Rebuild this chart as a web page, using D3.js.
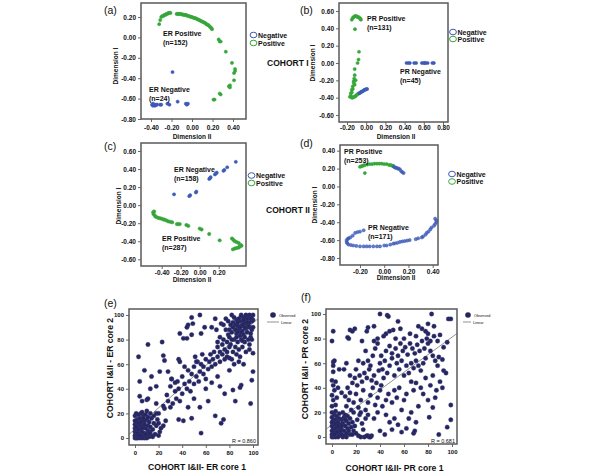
<!DOCTYPE html>
<html><head><meta charset="utf-8">
<script src="https://cdn.jsdelivr.net/npm/d3@7"></script>
<style>body{margin:0;background:#fff} svg{display:block} text{font-family:"Liberation Sans",Arial,sans-serif}</style>
</head><body><svg id="c" width="600" height="474"></svg>
<script>
// ---------- DATA ----------
const aGreen=[[-0.31,0.17],[-0.32,0.13],[-0.30,0.20],[-0.29,0.21],[-0.28,0.21],[-0.27,0.22],[-0.26,0.22],[-0.25,0.23],[-0.24,0.23],[-0.23,0.24],[-0.22,0.24],[-0.21,0.24],
[-0.15,0.23],[-0.14,0.23],[-0.13,0.23],[-0.12,0.23],[-0.11,0.23],[-0.10,0.225],[-0.09,0.225],[-0.08,0.22],[-0.07,0.22],[-0.06,0.22],[-0.05,0.215],[-0.04,0.21],[-0.03,0.21],[-0.02,0.205],[-0.01,0.20],[0.00,0.20],[0.01,0.195],[0.02,0.19],[0.03,0.19],[0.04,0.185],[0.05,0.18],[0.06,0.175],[0.07,0.17],[0.08,0.165],[0.09,0.16],[0.10,0.155],[0.11,0.15],[0.12,0.145],[0.13,0.14],[0.14,0.13],[0.15,0.125],[0.16,0.12],[0.17,0.11],[0.18,0.10],[0.19,0.09],[0.195,0.08],
[0.26,-0.02],[0.27,-0.04],[0.28,-0.04],[0.33,-0.14],[0.39,-0.25],[0.42,-0.31],[0.42,-0.33],[0.41,-0.35],[0.41,-0.42],[0.37,-0.47],[0.36,-0.48],[0.37,-0.49],[0.27,-0.55],[0.28,-0.56],[0.21,-0.61],[0.22,-0.61]];
const aBlue=[[-0.19,-0.34],[-0.39,-0.66],[-0.38,-0.67],[-0.37,-0.66],[-0.36,-0.67],[-0.35,-0.66],[-0.34,-0.66],[-0.38,-0.65],[-0.31,-0.66],[-0.30,-0.66],[-0.24,-0.65],[-0.22,-0.66],[-0.14,-0.63],[-0.06,-0.65],[-0.04,-0.65],[-0.05,-0.66]];

const bGreen=[[-0.15,0.50],[-0.14,0.52],[-0.13,0.53],[-0.12,0.54],[-0.11,0.54],[-0.10,0.54],[-0.09,0.53],[-0.08,0.53],[-0.07,0.52],[-0.06,0.51],[-0.055,0.50],
[-0.117,0.39],[-0.075,0.13],[-0.08,0.04],[-0.09,0.00],[-0.12,-0.07],[-0.12,-0.14],[-0.125,-0.18],[-0.13,-0.21],[-0.13,-0.23],[-0.14,-0.27],[-0.15,-0.31],[-0.16,-0.35],[-0.17,-0.39],[-0.16,-0.38],[-0.15,-0.40],[-0.14,-0.40],[-0.13,-0.39],[-0.12,-0.39],[-0.11,-0.38],[-0.10,-0.37],[-0.09,-0.36],[-0.08,-0.35],[-0.15,-0.34],[-0.14,-0.30],[-0.12,-0.25],[-0.11,-0.20]];
const bBlue=[[-0.07,-0.35],[-0.06,-0.34],[-0.05,-0.33],[-0.04,-0.33],[-0.03,-0.32],[-0.02,-0.31],[-0.01,-0.31],[0.00,-0.30],[0.01,-0.30],
[0.42,0],[0.44,0],[0.455,0],[0.50,0],[0.52,0],[0.58,0],[0.60,0],[0.61,0],[0.62,0],[0.64,0],[0.69,0],[0.705,0]];

const cBlue=[[-0.27,0.12],[-0.11,0.10],[-0.10,0.11],[-0.04,0.14],[-0.035,0.15],[0.10,0.29],[0.11,0.30],[0.115,0.31],[0.16,0.34],[0.17,0.35],[0.18,0.36],[0.25,0.38],[0.26,0.39],[0.29,0.42],[0.38,0.48]];
const cGreen=[[-0.49,-0.08],[-0.48,-0.07],[-0.485,-0.10],[-0.47,-0.12],[-0.46,-0.13],[-0.44,-0.14],[-0.42,-0.145],[-0.40,-0.15],[-0.38,-0.16],[-0.37,-0.16],[-0.35,-0.17],[-0.33,-0.18],[-0.31,-0.185],[-0.29,-0.19],[-0.24,-0.21],[-0.225,-0.21],[-0.21,-0.21],[-0.14,-0.22],[-0.12,-0.23],[0.00,-0.26],[0.02,-0.27],[0.10,-0.32],[0.21,-0.39],
[0.34,-0.37],[0.355,-0.385],[0.37,-0.40],[0.39,-0.41],[0.41,-0.42],[0.43,-0.44],[0.44,-0.45],[0.42,-0.46],[0.41,-0.47],[0.39,-0.475],[0.37,-0.48],[0.35,-0.49]];

const dGreen=[[-0.20,0.22],[-0.19,0.225],[-0.18,0.23],[-0.17,0.235],[-0.16,0.24],[-0.14,0.245],[-0.12,0.25],[-0.10,0.25],[-0.08,0.255],[-0.06,0.255],[-0.04,0.255],[-0.02,0.255],[0.00,0.25],[0.02,0.25],[0.04,0.24],[0.05,0.24],[0.06,0.235],[0.07,0.23],[0.075,0.23],[-0.16,0.15]];
const dBlue=[[0.08,0.22],[0.09,0.21],[0.10,0.21],[0.11,0.20],[0.12,0.20],[0.13,0.19],[0.14,0.17],[0.15,0.16],[0.16,0.15],
[0.42,-0.36],[0.43,-0.38],[0.43,-0.40],[0.42,-0.42],[0.41,-0.44],[0.39,-0.46],[0.38,-0.48],[0.365,-0.505],[0.35,-0.52],[0.34,-0.54],[0.32,-0.56],[0.31,-0.57],[0.28,-0.58],[0.26,-0.59],[0.21,-0.60],[0.19,-0.605],[0.17,-0.61],[0.15,-0.615],[0.13,-0.62],[0.11,-0.63],[0.09,-0.635],[0.075,-0.64],[0.05,-0.65],[0.02,-0.66],[0.00,-0.66],[-0.035,-0.67],[-0.06,-0.67],[-0.09,-0.67],[-0.12,-0.67],[-0.145,-0.67],[-0.17,-0.67],[-0.20,-0.67],[-0.23,-0.665],[-0.255,-0.66],[-0.275,-0.655],[-0.295,-0.65],[-0.305,-0.635],[-0.31,-0.62],[-0.31,-0.60],[-0.30,-0.585],[-0.295,-0.58],[-0.28,-0.57],[-0.26,-0.55],[-0.24,-0.52],[-0.22,-0.51],[-0.20,-0.505],[-0.17,-0.49]];

const ePoints=[[0,0],[1,0],[2,0],[3,1],[0,2],[1,3],[2,2],[4,0],[5,1],[6,0],[0,5],[1,6],[3,4],[5,3],[7,2],[8,0],[9,1],[10,0],[12,1],[14,2],[0,8],[2,9],[4,7],[6,5],[8,4],[10,3],[11,6],[13,5],[0,11],[1,13],[3,12],[5,10],[7,9],[9,8],[11,10],[13,9],[15,7],[2,15],[4,16],[6,14],[8,13],[10,15],[12,13],[0,18],[1,20],[3,19],[5,20],[7,18],[9,19],[11,17],[14,16],[16,12],[18,10],[17,3],[20,2],[21,5],[22,8],[20,12],[19,15],[2,4],[4,2],[6,8],[8,11],[3,7],[1,9],[5,13],[7,16],[9,3],[12,4],[15,1],[0,14],[6,21],[10,22],[13,20],[16,18],[18,20],[24,10],[26,14],
[18,28],[25,24],[10,31],[11,32],[20,20],[24,26],[28,30],[30,25],[27,35],[32,28],[34,38],[30,42],[35,32],[37,40],[38,30],[40,36],[42,44],[36,46],[34,45],[31,48],[40,50],[44,40],[46,46],[48,52],[45,55],[42,58],[47,38],[50,44],[52,50],[50,58],[54,46],[55,54],[56,60],[53,62],[58,52],[58,58],[60,64],[57,68],[60,48],[62,56],[63,62],[65,58],[64,68],[66,64],[68,60],[67,70],[70,66],[70,74],[72,62],[72,70],[74,68],[74,76],[76,64],[76,72],[78,70],[78,78],[80,74],[75,80],[79,84],[72,82],[70,78],
[37,15],[41,14],[48,16],[56,4],[68,18],[75,15],[73,12],[76,36],[83,39],[90,43],[89,41],[98,28],[99,47],[100,54],[100,69],[85,30],[62,30],[55,25],[45,25],[50,32],[60,40],[65,45],[70,50],[72,42],[80,55],[84,60],[88,62],[82,64],[92,60],
[3,66],[11,76],[23,78],[25,63],[24,67],[37,64],[38,62],[51,66],[52,62],[8,55],[4,46],[13,40],[4,34],[21,54],[28,54],[31,48],[38,85],[41,81],[44,81],[48,84],[55,100],[48,98],[49,93],[45,92],[44,90],[68,97],[73,93],[69,88],[56,85],[59,90],[65,90],[82,100],[90,100],[14,50],[18,42],[6,30],
[90,99],[94,97],[96,99],[99,99],[100,96],[99,95],[86,96],[89,95],[92,95],[93,93],[96,93],[97,94],[83,94],[85,92],[87,91],[90,91],[88,88],[91,87],[94,89],[97,90],[99,88],[86,85],[89,83],[92,84],[95,86],[98,82],[84,80],[87,78],[90,80],[93,78],[96,80],[82,86],[80,82],[81,76],[85,74],[88,72],[91,74],[94,70],[97,72],[83,70],[86,68],[89,66],[80,65],[78,66],[95,97],[98,97],[92,98],[88,97],[84,98],[96,91],[93,90],[91,92],[87,94],[85,88],[89,90],[79,95],[77,97],[98,85],[100,90],[100,100],[97,100],[94,100],[92,96],[95,94],[90,86],[87,86],[83,90],[81,92],[99,80],[97,76],[93,82],[91,79],[86,82],[77,88],[75,92],[80,88],[82,80]];

const fPoints=[[0,0],[1,0],[2,1],[3,0],[0,2],[1,3],[2,4],[4,2],[5,0],[6,1],[7,3],[0,5],[1,7],[3,6],[5,5],[8,2],[9,0],[10,1],[0,9],[2,10],[4,8],[6,7],[8,6],[10,5],[12,3],[1,12],[3,14],[5,12],[7,10],[9,11],[11,9],[13,7],[0,16],[2,18],[4,17],[6,15],[8,14],[10,16],[12,13],[14,11],[0,20],[3,21],[6,19],[9,20],[11,18],[13,17],[15,15],[17,12],[16,8],[18,5],[20,3],[22,1],[24,0],[27,0],[30,1],[31,0],[33,1],[15,2],[14,5],[12,0],[7,5],[4,4],[2,2],[5,9],[3,11],[8,9],[1,14],[0,12],[11,14],[17,2],[19,9],[21,14],[23,18],[25,11],[26,6],[28,15],
[0,25],[1,30],[0,34],[2,38],[1,42],[0,46],[1,53],[1,58],[1,61],[2,62],[0,78],[1,86],[3,26],[4,32],[5,40],[3,45],[6,55],[8,36],
[12,25],[14,30],[16,22],[18,28],[20,35],[22,24],[24,30],[26,38],[28,22],[30,28],[32,34],[34,40],[36,26],[38,32],[40,38],[11,33],[13,40],[15,36],[17,44],[19,48],[21,42],[23,50],[25,45],[27,52],[29,48],[31,55],[33,46],[35,50],[37,44],[39,54],[41,42],[43,48],[18,20],[24,20],[30,18],[35,15],[38,20],[42,25],[45,30],[47,35],[50,28],[52,38],[54,32],[56,40],[58,22],[60,30],[62,35],[45,18],[48,12],[52,15],[55,10],[32,0],[29,1],[40,5],[44,2],[50,6],[58,4],[62,7],[68,3],[69,5],[64,15],[66,20],[70,12],[72,25],
[40,60],[42,55],[44,62],[46,52],[48,58],[50,64],[52,50],[54,60],[56,55],[58,62],[60,50],[62,58],[64,52],[66,60],[68,56],[70,62],[72,58],[74,54],[76,60],[78,64],[45,70],[48,74],[50,68],[53,72],[55,66],[57,76],[59,70],[61,73],[63,67],[65,76],[67,72],[69,68],[71,75],[73,70],[75,78],[77,72],[79,80],[80,76],[82,70],[84,66],[86,62],[88,58],[82,78],[85,82],[80,84],[30,62],[32,58],[34,66],[36,72],[26,60],[28,70],[20,55],[22,62],[15,50],[10,55],[12,60],[38,76],[35,78],[41,66],[43,82],
[40,100],[46,99],[47,98],[83,100],[97,96],[99,96],[55,94],[35,90],[30,89],[15,87],[17,86],[19,88],[29,86],[45,84],[51,87],[57,88],[60,80],[14,80],[13,81],[25,78],[38,80],[48,86],[53,80],[65,84],[70,82],[75,88],[78,86],[90,83],[93,73],[96,77],[89,65],[92,63],[93,54],[88,78],[85,90],[80,92],[72,90],
[99,26],[99,14],[96,8],[89,2],[81,16],[84,24],[86,32],[90,45],[95,52],[92,40],[80,30],[76,35],[74,40],[70,44],[82,42],[78,48],[68,38],[66,45],[84,50],[87,38]];

const mdsTicks={a:{x:[-0.4,-0.2,0,0.2,0.4],y:[0.2,0,-0.2,-0.4,-0.6,-0.8]},
 b:{x:[-0.2,0,0.2,0.4,0.6,0.8],y:[0.6,0.4,0.2,0,-0.2,-0.4,-0.6]},
 c:{x:[-0.4,-0.2,0,0.2],y:[0.6,0.4,0.2,0,-0.2,-0.4,-0.6]},
 d:{x:[-0.2,0,0.2,0.4],y:[0.4,0.2,0,-0.2,-0.4,-0.6,-0.8]}};
const pctTicks=[0,20,40,60,80,100];
const legendLabels=["Negative","Positive"];
const regression={e:{b0:7.3,b1:0.861,r:"R = 0.860"},f:{b0:9.9,b1:0.713,r:"R = 0.681"}};

// ---------- DRAW ----------
const GREEN="#36a63a", BLUE="#3d5ab8", NAVY="#25255f", FONT='"Liberation Sans",Arial,sans-serif';
const svg=d3.select("#c");

function txt(x,y,s,size,opt={}){
  const t=svg.append("text").attr("x",x).attr("y",y).text(s).attr("font-size",size)
   .attr("font-weight",opt.w||"bold").attr("fill",opt.fill||"#111").attr("text-anchor",opt.a||"start");
  if(opt.rot) t.attr("transform",`rotate(-90,${x},${y})`);
  return t;
}
function styleAxis(g,size){
  g.select(".domain").remove();
  g.selectAll("line").attr("stroke","#444").attr("stroke-width",0.8);
  g.selectAll("text").attr("font-size",size).attr("font-weight","bold").attr("fill","#111").attr("font-family",FONT);
}
function panel(cfg){
  const x=d3.scaleLinear().domain(cfg.xd).range(cfg.xr);
  const y=d3.scaleLinear().domain(cfg.yd).range(cfg.yr);
  const [L,T,R,B]=cfg.box;
  const fmt=cfg.fmt;
  const ya=svg.append("g").attr("transform",`translate(${L},0)`)
    .call(d3.axisLeft(y).tickValues(cfg.yt).tickSize(3).tickPadding(cfg.ypad).tickFormat(fmt));
  styleAxis(ya,cfg.fs);
  const xa=svg.append("g").attr("transform",`translate(0,${B})`)
    .call(d3.axisBottom(x).tickValues(cfg.xt).tickSize(3).tickPadding(cfg.xpad).tickFormat(fmt));
  styleAxis(xa,cfg.fs);
  if(cfg.line){
    const x0=x.invert(L), x1=x.invert(R);
    svg.append("line").attr("x1",x(x0)).attr("y1",y(cfg.line.b0+cfg.line.b1*x0))
      .attr("x2",x(x1)).attr("y2",y(cfg.line.b0+cfg.line.b1*x1)).attr("stroke","#888").attr("stroke-width",0.9);
  }
  cfg.series.forEach(s=>{
    svg.append("g").selectAll("circle").data(s.data).join("circle")
      .attr("cx",d=>x(d[0])).attr("cy",d=>y(d[1])).attr("r",s.r)
      .attr("fill",s.color).attr("fill-opacity",s.fo||1).attr("stroke",s.stroke||s.color).attr("stroke-width",s.sw||0.5);
  });
  svg.append("path").attr("d",`M${L},${T}H${R}V${B}H${L}Z`)
    .attr("fill","none").attr("stroke","#5a5a5a").attr("stroke-width",1.5);
}
const f2=d=>d.toFixed(2);
function legend(cx,y1,y2){
  [[y1,BLUE,legendLabels[0]],[y2,GREEN,legendLabels[1]]].forEach(([yy,c,l])=>{
    svg.append("ellipse").attr("cx",cx).attr("cy",yy).attr("rx",3.4).attr("ry",2.8).attr("fill","none").attr("stroke",c).attr("stroke-width",1);
    txt(cx+4.5,yy+2.5,l,7);
  });
}

// (a)
panel({xd:[-0.4,0.4],xr:[151,233],yd:[0.2,-0.8],yr:[17,119],box:[141,3,246,119],xt:mdsTicks.a.x,yt:mdsTicks.a.y,fmt:f2,fs:6.5,xpad:3,ypad:2,
  series:[{data:aGreen,color:GREEN,r:1.6},{data:aBlue,color:BLUE,r:1.6}]});
// (b)
panel({xd:[-0.2,0.8],xr:[347,443],yd:[0.6,-0.6],yr:[11,115],box:[339,3,448,122],xt:mdsTicks.b.x,yt:mdsTicks.b.y,fmt:f2,fs:6.5,xpad:0.5,ypad:2,
  series:[{data:bGreen,color:GREEN,r:1.6},{data:bBlue,color:BLUE,r:1.6}]});
// (c)
panel({xd:[-0.4,0.2],xr:[161.7,218.7],yd:[0.6,-0.6],yr:[151,259.3],box:[141,143,246,266],xt:mdsTicks.c.x,yt:mdsTicks.c.y,fmt:f2,fs:6.5,xpad:1.5,ypad:2,
  series:[{data:cGreen,color:GREEN,r:1.7},{data:cBlue,color:BLUE,r:1.6}]});
// (d)
panel({xd:[-0.2,0.4],xr:[360,432.7],yd:[0.4,-0.8],yr:[150.7,258],box:[340,145,438,265],xt:mdsTicks.d.x,yt:mdsTicks.d.y,fmt:f2,fs:6.5,xpad:1.5,ypad:2,
  series:[{data:dGreen,color:GREEN,r:1.6},{data:dBlue,color:BLUE,r:1.6,fo:0.8}]});
// (e)
panel({xd:[0,100],xr:[135,253],yd:[0,100],yr:[438,315],box:[129,309,258,445],xt:pctTicks,yt:pctTicks,fmt:d3.format("d"),fs:6,xpad:3,ypad:2,
  line:regression.e, series:[{data:ePoints,color:NAVY,r:2.2,stroke:"#3a3a7a",sw:0.4}]});
// (f)
panel({xd:[0,100],xr:[332,452],yd:[0,100],yr:[437,314],box:[326,309,457,444],xt:pctTicks,yt:pctTicks,fmt:d3.format("d"),fs:6,xpad:3,ypad:2,
  line:regression.f, series:[{data:fPoints,color:NAVY,r:2.2,stroke:"#3a3a7a",sw:0.4}]});

// panel letters
txt(104,14,"(a)",10.5,{w:"normal"});
txt(300,14,"(b)",10.5,{w:"normal"});
txt(104,150,"(c)",10.5,{w:"normal"});
txt(300,147,"(d)",10.5,{w:"normal"});
txt(104,307,"(e)",10.5,{w:"normal"});
txt(301,301,"(f)",10.5,{w:"normal"});

// axis titles MDS
txt(192,138.5,"Dimension II",6.5,{a:"middle"});
txt(396,138.5,"Dimension II",6.5,{a:"middle"});
txt(192,282,"Dimension II",6.5,{a:"middle"});
txt(396,280,"Dimension II",6.5,{a:"middle"});
txt(118,66,"Dimension I",6.5,{a:"middle",rot:true});
txt(315,63,"Dimension I",6.5,{a:"middle",rot:true});
txt(121,206,"Dimension I",6.5,{a:"middle",rot:true});
txt(317,205,"Dimension I",6.5,{a:"middle",rot:true});

// group labels
txt(163,36,"ER Positive",7); txt(163,45,"(n=152)",7);
txt(149,92,"ER Negative",7); txt(149,101,"(n=24)",7);
txt(367,21,"PR Positive",7); txt(367,29.5,"(n=131)",7);
txt(400,74,"PR Negative",7); txt(400,82.5,"(n=45)",7);
txt(174,172,"ER Negative",7); txt(174,180.5,"(n=158)",7);
txt(162,241,"ER Positive",7); txt(162,249.5,"(n=287)",7);
txt(344,154,"PR Positive",7); txt(344,162.5,"(n=253)",7);
txt(368,230,"PR Negative",7); txt(368,238.5,"(n=171)",7);

legend(253.5,35,43);
legend(453,32,39);
legend(251.5,175.5,183);
legend(452,174,181.5);

txt(267,66,"COHORT I",8.5);
txt(266,213,"COHORT II",8.5);

// scatter titles
txt(197,470,"COHORT I&II- ER core 1",8.6,{a:"middle"});
txt(394.5,471,"COHORT I&II- PR core 1",8.6,{a:"middle"});
txt(113,368,"COHORT I&II - ER core 2",8.6,{a:"middle",rot:true});
txt(308,369,"COHORT I&II - PR core 2",8.6,{a:"middle",rot:true});
txt(256,443,regression.e.r,5.5,{a:"end",w:"normal"});
txt(455,442.5,regression.f.r,5.5,{a:"end",w:"normal"});

// scatter legends
function sLegend(cx,lx1,lx2){
  svg.append("circle").attr("cx",cx).attr("cy",315).attr("r",2.8).attr("fill",NAVY);
  txt(cx+6,316.5,"Observed",3.8,{w:"normal"});
  svg.append("line").attr("x1",lx1).attr("x2",lx2).attr("y1",322).attr("y2",322).attr("stroke","#777").attr("stroke-width",0.8);
  txt(lx2+2,323.5,"Linear",3.8,{w:"normal"});
}
sLegend(273,267,279);
sLegend(468,463,471);
</script></body></html>
